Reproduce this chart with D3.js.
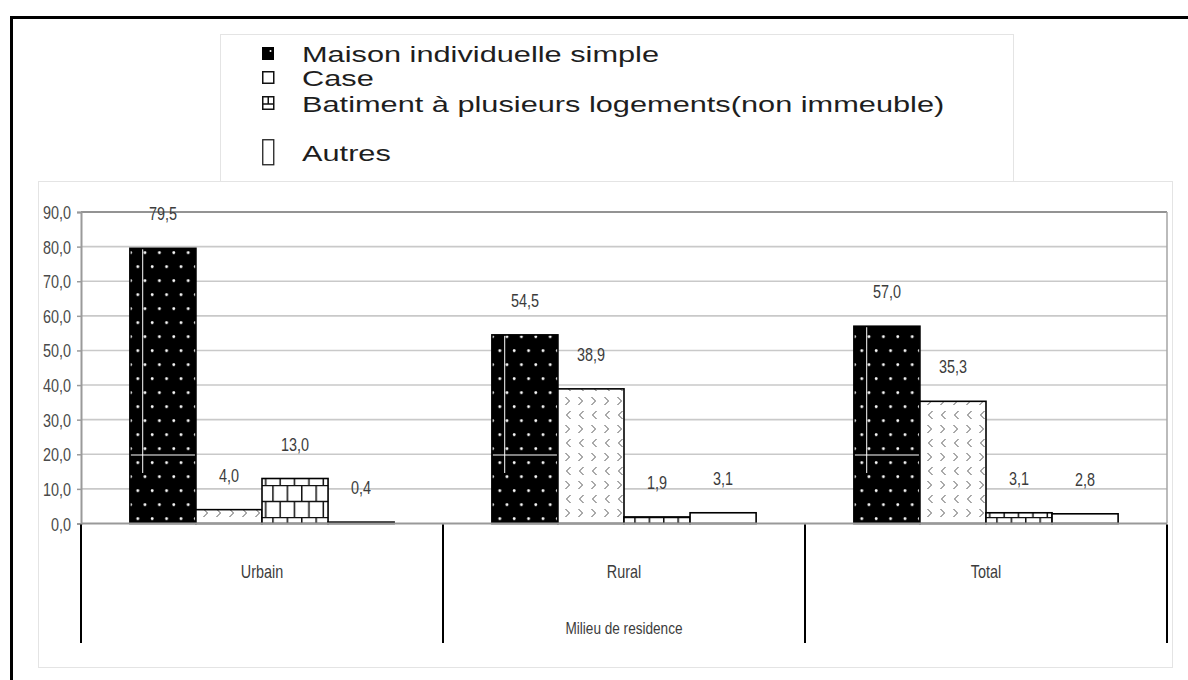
<!DOCTYPE html>
<html>
<head>
<meta charset="utf-8">
<script src="https://cdn.jsdelivr.net/npm/d3@7"></script>
<style>
  html, body { margin: 0; padding: 0; background: #fff; }
  svg { display: block; }
  text { font-family: "Liberation Sans", Arial, Helvetica, sans-serif; }
</style>
</head>
<body>
<svg id="chart" width="1188" height="680"></svg>
<script>
// Categories (milieu de résidence) and housing types
const categories = ["Urbain", "Rural", "Total"];
const seriesNames = [
  "Maison individuelle simple",
  "Case",
  "Batiment à plusieurs logements(non immeuble)",
  "Autres"
];
// Percentages per category, one array per housing type
const maisonValues   = [79.5, 54.5, 57.0];
const caseValues     = [4.0, 38.9, 35.3];
const batimentValues = [13.0, 1.9, 3.1];
const autresValues   = [0.4, 3.1, 2.8];
const seriesValues = [maisonValues, caseValues, batimentValues, autresValues];
const yTicks = [0, 10, 20, 30, 40, 50, 60, 70, 80, 90];
const axisTitle = "Milieu de residence";

const fmt = v => v.toFixed(1).replace(".", ",");

const svg = d3.select("#chart");
const defs = svg.append("defs");

// ---- fill patterns ----
// black with staggered white dots
const pDots = defs.append("pattern").attr("id", "p-dots")
  .attr("patternUnits", "userSpaceOnUse")
  .attr("x", 132.4).attr("y", 249.2).attr("width", 14.4).attr("height", 28);
pDots.append("rect").attr("width", 14.4).attr("height", 28).attr("fill", "#000");
pDots.append("circle").attr("cx", 3.6).attr("cy", 3.5).attr("r", 1.4).attr("fill", "#fff");
pDots.append("circle").attr("cx", 10.8).attr("cy", 17.5).attr("r", 1.4).attr("fill", "#fff");

// thin white seams running through the dotted fill
const pSeam = defs.append("pattern").attr("id", "p-seam")
  .attr("patternUnits", "userSpaceOnUse")
  .attr("x", 177.5).attr("y", 73).attr("width", 116.3).attr("height", 600);
pSeam.append("line").attr("x1", 0.5).attr("x2", 0.5).attr("y1", 0).attr("y2", 400)
  .attr("stroke", "#fff").attr("stroke-width", 1);
pSeam.append("line").attr("x1", 0).attr("x2", 116.3).attr("y1", 382).attr("y2", 382)
  .attr("stroke", "#fff").attr("stroke-width", 1);

// white with alternating chevrons
const pChev = defs.append("pattern").attr("id", "p-chev")
  .attr("patternUnits", "userSpaceOnUse")
  .attr("x", 2).attr("y", 2).attr("width", 13).attr("height", 28);
pChev.append("rect").attr("width", 13).attr("height", 28).attr("fill", "#fff");
pChev.append("path").attr("d", "M3.5,3 L7.5,7 L3.5,11")
  .attr("fill", "none").attr("stroke", "#555").attr("stroke-width", 1);
pChev.append("path").attr("d", "M8.5,17 L4.5,21 L8.5,25")
  .attr("fill", "none").attr("stroke", "#555").attr("stroke-width", 1);

// white with brick lines
const pBrick = defs.append("pattern").attr("id", "p-brick")
  .attr("patternUnits", "userSpaceOnUse")
  .attr("x", 4).attr("y", 5).attr("width", 14.4).attr("height", 32);
pBrick.append("rect").attr("width", 14.4).attr("height", 32).attr("fill", "#fff");
pBrick.append("path")
  .attr("d", "M0,0.5 H14.4 M0,16.5 H14.4 M0.75,0 V16 M7.95,16 V32")
  .attr("fill", "none").attr("stroke", "#111").attr("stroke-width", 1.5);

const fills = ["url(#p-dots)", "url(#p-chev)", "url(#p-brick)", "#fff"];

// ---- frames ----
svg.append("rect").attr("x", 38.5).attr("y", 181.5).attr("width", 1134).attr("height", 486)
  .attr("fill", "#fff").attr("stroke", "#e4e4e4").attr("stroke-width", 1);
svg.append("rect").attr("x", 220.5).attr("y", 34.5).attr("width", 793).attr("height", 147)
  .attr("fill", "#fff").attr("stroke", "#e4e4e4").attr("stroke-width", 1);
// outer black border (top and left)
svg.append("path").attr("d", "M11.5,680 V17.5 H1188")
  .attr("fill", "none").attr("stroke", "#000").attr("stroke-width", 3);

// ---- scales ----
const plot = { left: 81, right: 1167, top: 212, bottom: 523.5 };
const y = d3.scaleLinear().domain([0, 90]).range([plot.bottom, plot.top]);
const x0 = d3.scaleBand().domain(categories).range([plot.left, plot.right]).padding(0);
const x1 = d3.scaleBand().domain(seriesNames).range([0, x0.bandwidth()])
  .paddingInner(0).paddingOuter(0.74);

// narrow text helper (condensed look)
function narrow(sel, sx) {
  return sel.attr("transform", d => `translate(${d.tx},${d.ty}) scale(${sx},1)`);
}

// ---- gridlines ----
const g = svg.append("g");
g.selectAll("line.grid").data(yTicks.filter(t => t > 0 && t < 90)).join("line")
  .attr("class", "grid")
  .attr("x1", plot.left).attr("x2", plot.right)
  .attr("y1", d => y(d)).attr("y2", d => y(d))
  .attr("stroke", "#c9c9c9").attr("stroke-width", 1.6);

// plot border: top and right
g.append("line").attr("x1", plot.left).attr("x2", plot.right)
  .attr("y1", y(90)).attr("y2", y(90)).attr("stroke", "#939393").attr("stroke-width", 2.2);
g.append("line").attr("x1", plot.right).attr("x2", plot.right)
  .attr("y1", y(90)).attr("y2", y(0)).attr("stroke", "#a5a5a5").attr("stroke-width", 1.5);

// y axis via d3.axisLeft
const yAxis = d3.axisLeft(y).tickValues(yTicks).tickSize(4).tickFormat(fmt);
const ya = svg.append("g").attr("transform", `translate(${plot.left},0)`).call(yAxis);
ya.select(".domain").attr("stroke", "#9a9a9a").attr("stroke-width", 2);
ya.selectAll(".tick line").attr("stroke", "#9a9a9a").attr("stroke-width", 1.5);
ya.selectAll(".tick text")
  .attr("x", 0).attr("dy", null)
  .attr("transform", "translate(-10,6.5) scale(0.8,1)")
  .attr("font-size", 18).attr("fill", "#4a4a4a").attr("text-anchor", "end");

// ---- bars ----
const groups = svg.append("g").selectAll("g.cat").data(categories).join("g")
  .attr("class", "cat")
  .attr("transform", c => `translate(${x0(c)},0)`);

seriesNames.forEach((s, si) => {
  const vals = seriesValues[si];
  groups.append("rect")
    .attr("x", (c, ci) => x1(s))
    .attr("y", (c, ci) => y(vals[ci]))
    .attr("width", x1.bandwidth())
    .attr("height", (c, ci) => y(0) - y(vals[ci]))
    .attr("fill", fills[si])
    .attr("stroke", "#000").attr("stroke-width", 1.6);
  if (si === 0) {
    groups.append("rect")
      .attr("x", x1(s) + 1)
      .attr("y", (c, ci) => y(vals[ci]) + 1)
      .attr("width", x1.bandwidth() - 2)
      .attr("height", (c, ci) => y(0) - y(vals[ci]) - 2)
      .attr("fill", "url(#p-seam)");
  }
});

// zero line
svg.append("line").attr("x1", plot.left).attr("x2", plot.right)
  .attr("y1", y(0)).attr("y2", y(0)).attr("stroke", "#999").attr("stroke-width", 2);

// value labels
const labelData = [];
categories.forEach((c, ci) => seriesNames.forEach((s, si) => {
  const v = seriesValues[si][ci];
  labelData.push({ v, tx: x0(c) + x1(s) + x1.bandwidth() / 2, ty: y(v) - 28 });
}));
narrow(svg.append("g").selectAll("text").data(labelData).join("text"), 0.8)
  .attr("text-anchor", "middle").attr("font-size", 18).attr("fill", "#3c3c3c")
  .text(d => fmt(d.v));

// ---- category axis (separators + labels) ----
const bounds = categories.map(c => x0(c)).concat([plot.right]);
svg.append("g").selectAll("line").data(bounds).join("line")
  .attr("x1", d => d).attr("x2", d => d)
  .attr("y1", y(0) + 1).attr("y2", 643)
  .attr("stroke", "#000").attr("stroke-width", 2);

narrow(svg.append("g").selectAll("text")
  .data(categories.map(c => ({ c, tx: x0(c) + x0.bandwidth() / 2, ty: 578 })))
  .join("text"), 0.8)
  .attr("text-anchor", "middle").attr("font-size", 18).attr("fill", "#3c3c3c")
  .text(d => d.c);

narrow(svg.append("g").selectAll("text")
  .data([{ t: axisTitle, tx: (plot.left + plot.right) / 2, ty: 634 }]).join("text"), 0.8)
  .attr("text-anchor", "middle").attr("font-size", 17).attr("fill", "#3c3c3c")
  .text(d => d.t);

// ---- legend ----
const legendRows = [54, 78, 104, 153];
const leg = svg.append("g");
const sw = 262;
// swatch 1: black square with a white speck
leg.append("rect").attr("x", sw).attr("y", legendRows[0] - 7).attr("width", 12).attr("height", 13)
  .attr("fill", "#000");
leg.append("circle").attr("cx", sw + 8.5).attr("cy", legendRows[0] - 3).attr("r", 1).attr("fill", "#fff");
// swatch 2: outlined square
leg.append("rect").attr("x", sw + 0.75).attr("y", legendRows[1] - 6.25).attr("width", 11).attr("height", 11.5)
  .attr("fill", "#fff").attr("stroke", "#111").attr("stroke-width", 1.5);
// swatch 3: outlined square with brick strokes
leg.append("rect").attr("x", sw + 0.75).attr("y", legendRows[2] - 7.25).attr("width", 11).attr("height", 12.5)
  .attr("fill", "#fff").attr("stroke", "#111").attr("stroke-width", 1.5);
leg.append("path")
  .attr("d", `M${sw},${legendRows[2]} H${sw + 12} M${sw + 6.25},${legendRows[2] - 7} V${legendRows[2]}`)
  .attr("stroke", "#111").attr("stroke-width", 1.5);
// swatch 4: tall empty rectangle
leg.append("rect").attr("x", sw + 0.75).attr("y", legendRows[3] - 13.25).attr("width", 11).attr("height", 25)
  .attr("fill", "#fff").attr("stroke", "#222").attr("stroke-width", 1.3);

leg.selectAll("text.lt")
  .data(seriesNames.map((s, i) => ({ s, tx: 302, ty: legendRows[i] + 7.5 })))
  .join("text").attr("class", "lt")
  .attr("transform", d => `translate(${d.tx},${d.ty}) scale(1.43,1)`)
  .attr("font-size", 21.5).attr("fill", "#1e1e1e")
  .text(d => d.s);
</script>
</body>
</html>
